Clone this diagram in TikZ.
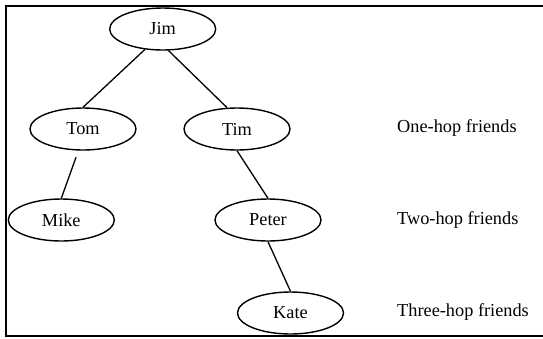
\documentclass[tikz,border=0pt]{standalone}
\usepackage{fontspec}
\setmainfont{Liberation Serif}
\usetikzlibrary{shapes.geometric}
\begin{document}
\begin{tikzpicture}[x=1pt,y=-1pt,
  person/.style={ellipse,draw,line width=1.4pt,inner sep=0pt,minimum width=106pt,minimum height=42pt,font=\fontsize{18.3}{22}\selectfont},
  hoplabel/.style={anchor=west,inner sep=0pt,font=\fontsize{18.3}{22}\selectfont},
  tie/.style={line width=1.3pt},
  frame/.style={line width=2pt}]
\useasboundingbox (0,0) rectangle (543,338);
\coordinate (ftr) at (543,5.5);
\coordinate (ftl) at (5.5,5.5);
\coordinate (fbl) at (5.5,336);
\coordinate (fbr) at (543,336);
\draw[frame] (ftr) -- (ftl) -- (fbl) -- (fbr);
\node[person] (jim) at (162.7,29) {Jim};
\node[person] (tom) at (83,129) {Tom};
\node[person] (tim) at (237,129) {Tim};
\node[person] (mike) at (61.3,220) {Mike};
\node[person] (peter) at (268,220) {Peter};
\node[person] (kate) at (290.5,313) {Kate};
\node[hoplabel] (l1) at (397,128) {One-hop friends};
\node[hoplabel] (l2) at (397,220) {Two-hop friends};
\node[hoplabel] (l3) at (397,312) {Three-hop friends};
\draw[tie] (jim.229) -- (tom.north);
\draw[tie] (jim.285) -- (tim.115);
\draw[tie,shorten <=7pt] (tom.258) -- (mike.north);
\draw[tie] (tim.south) -- (peter.north);
\draw[tie] (peter.south) -- (kate.north);
\end{tikzpicture}
\end{document}
